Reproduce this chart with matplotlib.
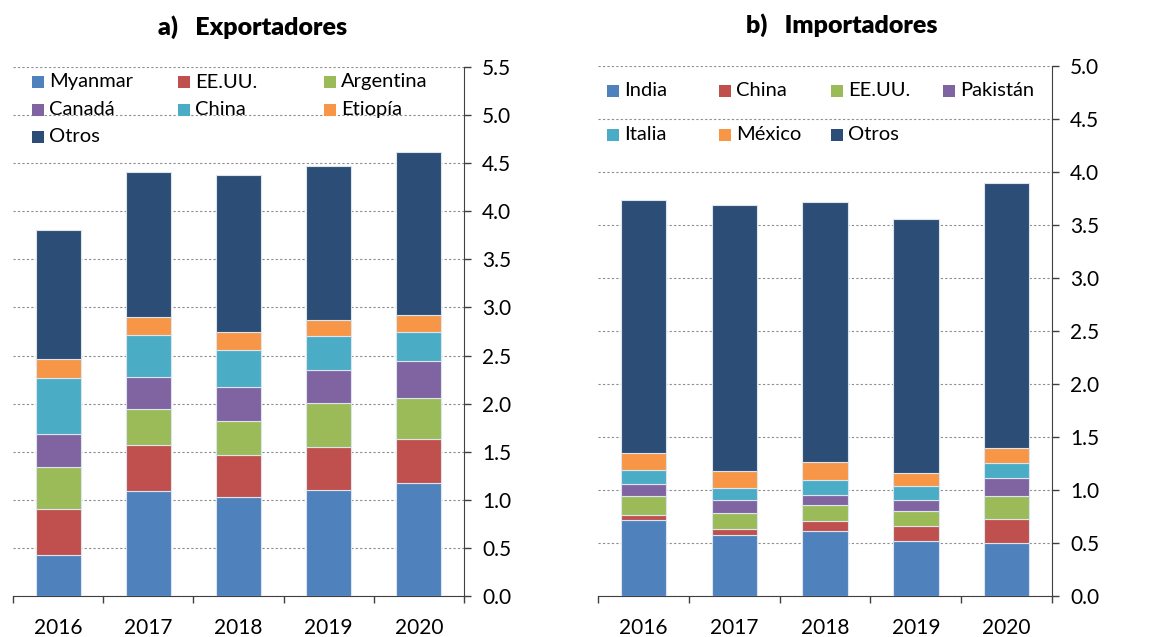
import matplotlib
matplotlib.use('Agg')
import matplotlib.pyplot as plt
from matplotlib.patches import Rectangle
from matplotlib.ticker import MultipleLocator, FixedLocator
import numpy as np

plt.rcParams['font.family'] = ['Lato', 'DejaVu Sans']

W, H = 1156, 637

years = ['2016', '2017', '2018', '2019', '2020']

# a) Exportadores
exp_labels = ['Myanmar', 'EE.UU.', 'Argentina', 'Canadá', 'China', 'Etiopía', 'Otros']
exp_myanmar = [0.43, 1.09, 1.03, 1.10, 1.18]
exp_eeuu = [0.47, 0.48, 0.44, 0.45, 0.45]
exp_argentina = [0.44, 0.37, 0.35, 0.46, 0.43]
exp_canada = [0.34, 0.34, 0.35, 0.34, 0.38]
exp_china = [0.59, 0.43, 0.39, 0.35, 0.30]
exp_etiopia = [0.19, 0.19, 0.18, 0.17, 0.18]
exp_otros = [1.35, 1.51, 1.64, 1.60, 1.70]

# b) Importadores
imp_labels = ['India', 'China', 'EE.UU.', 'Pakistán', 'Italia', 'México', 'Otros']
imp_india = [0.72, 0.58, 0.61, 0.52, 0.50]
imp_china = [0.04, 0.05, 0.10, 0.14, 0.23]
imp_eeuu = [0.18, 0.155, 0.145, 0.14, 0.21]
imp_pakistan = [0.12, 0.12, 0.10, 0.11, 0.17]
imp_italia = [0.13, 0.115, 0.14, 0.125, 0.145]
imp_mexico = [0.16, 0.155, 0.165, 0.125, 0.145]
imp_otros = [2.39, 2.51, 2.46, 2.40, 2.50]

colors = ['#4F81BD', '#C0504D', '#9BBB59', '#8064A2', '#4BACC6', '#F79646', '#2C4D75']
EDGE = '#DCE4EE'
FS = 15


def fx(px):
    return px / W


def fy(py):
    return 1 - py / H


def draw_panel(ax, series, labels, ymax):
    x = np.arange(len(years))
    bottom = np.zeros(len(years))
    for vals, lab, col in zip(series, labels, colors):
        ax.bar(x, vals, 0.5, bottom=bottom, color=col, edgecolor=EDGE,
               linewidth=0.8, label=lab, zorder=3)
        bottom += np.array(vals)
    ax.set_xlim(-0.5, len(years) - 0.5)
    ax.set_ylim(0, ymax)
    ax.yaxis.set_major_locator(MultipleLocator(0.5))
    ax.yaxis.tick_right()
    ax.yaxis.set_major_formatter(plt.FuncFormatter(lambda v, p: f'{v:.1f}'))
    ax.tick_params(axis='y', direction='out', length=5, width=1, color='#404040',
                   labelsize=FS, pad=8)
    ax.set_xticks(x)
    ax.set_xticklabels(years)
    ax.xaxis.set_minor_locator(FixedLocator(np.arange(-0.5, len(years), 1.0)))
    ax.tick_params(axis='x', which='major', length=0, labelsize=FS, pad=16)
    ax.tick_params(axis='x', which='minor', direction='out', length=5, width=1, color='#404040')
    for side in ['top', 'left']:
        ax.spines[side].set_visible(False)
    ax.spines['right'].set_color('#404040')
    ax.spines['bottom'].set_color('#404040')
    ax.grid(axis='y', color='#8C8C8C', linestyle=(0, (2, 2)), linewidth=0.8, zorder=0)
    ax.set_axisbelow(True)


def grid_legend(fig, labels, x0, y0, dx, dy, ncol):
    # legend drawn in pixel grid, row by row like the spreadsheet original
    for i, (lab, col) in enumerate(zip(labels, colors)):
        r, c = divmod(i, ncol)
        px = x0 + c * dx
        py = y0 + r * dy
        fig.add_artist(Rectangle((fx(px), fy(py + 6)), 12 / W, 12 / H,
                                 transform=fig.transFigure, facecolor=col, edgecolor='none'))
        fig.text(fx(px + 17), fy(py), lab, fontsize=14.5, va='center', ha='left')


fig = plt.figure(figsize=(W / 100, H / 100), dpi=100)
ax1 = fig.add_axes([fx(13), fy(596), fx(464) - fx(13), fy(67) - fy(596)])
ax2 = fig.add_axes([fx(598), fy(596), fx(1052) - fx(598), fy(66) - fy(596)])

draw_panel(ax1, [exp_myanmar, exp_eeuu, exp_argentina, exp_canada, exp_china,
                 exp_etiopia, exp_otros], exp_labels, 5.5)
draw_panel(ax2, [imp_india, imp_china, imp_eeuu, imp_pakistan, imp_italia,
                 imp_mexico, imp_otros], imp_labels, 5.0)

grid_legend(fig, exp_labels, 32, 82, 146, 27.5, 3)
grid_legend(fig, imp_labels, 607, 91, 112, 44, 4)

fig.text(fx(253), fy(27), 'a)   Exportadores', fontsize=18, fontweight='heavy',
         ha='center', va='center')
fig.text(fx(842), fy(25), 'b)   Importadores', fontsize=18, fontweight='heavy',
         ha='center', va='center')

fig.savefig('out.png', dpi=100)
